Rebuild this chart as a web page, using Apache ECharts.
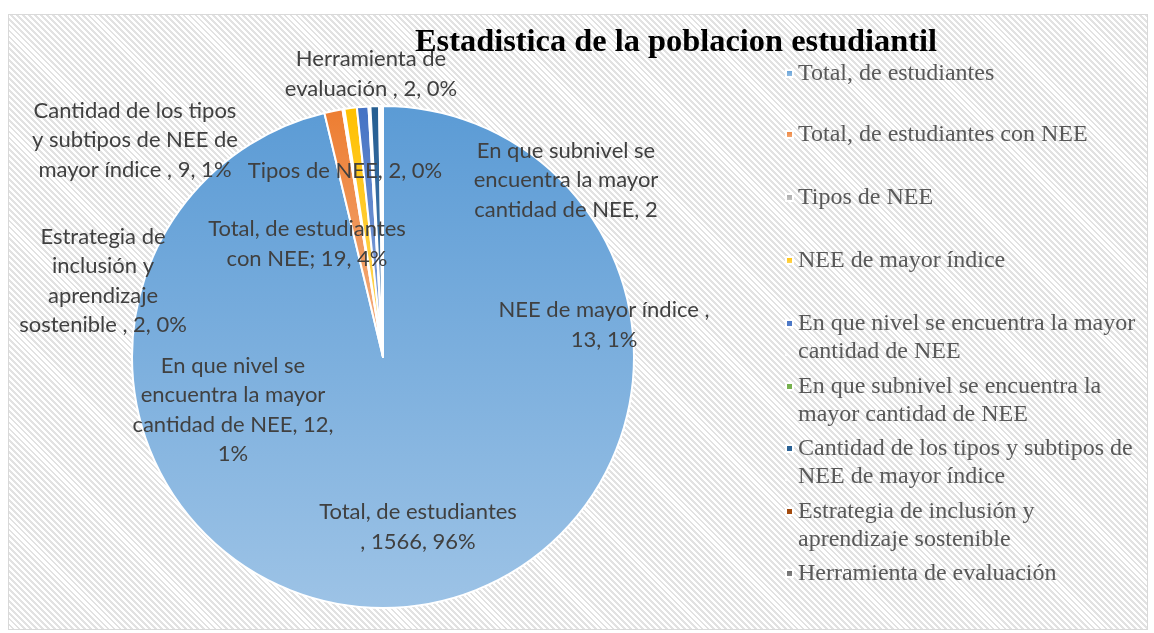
<!DOCTYPE html>
<html>
<head>
<meta charset="utf-8">
<script src="https://cdn.jsdelivr.net/npm/echarts@6/dist/echarts.min.js"></script>
<style>
  html, body { margin: 0; padding: 0; background: #fff; }
  #main {
    position: absolute; left: 8px; top: 14px;
    width: 1138px; height: 614px;
    border: 1px solid #d9d9d9;
    background: repeating-linear-gradient(45deg, #ffffff 0px, #ffffff 2.2px, #e2e2e2 2.2px, #e2e2e2 4.2px);
  }
</style>
</head>
<body>
<div id="main"></div>
<script>
var categories = [
  'Total, de estudiantes',
  'Total, de estudiantes con NEE',
  'Tipos de NEE',
  'NEE de mayor índice',
  'En que nivel se encuentra la mayor cantidad de NEE',
  'En que subnivel se encuentra la mayor cantidad de NEE',
  'Cantidad de los tipos y subtipos de NEE de mayor índice',
  'Estrategia de inclusión y aprendizaje sostenible',
  'Herramienta de evaluación'
];
var values = [1566, 19, 2, 13, 12, 2, 9, 2, 2];
// texto de etiquetas tal como aparece en el grafico
var labelTexts = [
  'Total, de estudiantes\n, 1566, 96%',
  'Total, de estudiantes\ncon NEE; 19, 4%',
  'Tipos de NEE, 2, 0%',
  'NEE de mayor índice ,\n13, 1%',
  'En que nivel se\nencuentra la mayor\ncantidad de NEE, 12,\n1%',
  'En que subnivel se\nencuentra la mayor\ncantidad de NEE, 2',
  'Cantidad de los tipos\ny subtipos de NEE de\nmayor índice , 9, 1%',
  'Estrategia de\ninclusión y\naprendizaje\nsostenible , 2, 0%',
  'Herramienta de\nevaluación , 2, 0%'
];
var legendTexts = [
  'Total, de estudiantes',
  'Total, de estudiantes con NEE',
  'Tipos de NEE',
  'NEE de mayor índice',
  'En que nivel se encuentra la mayor\ncantidad de NEE',
  'En que subnivel se encuentra la\nmayor cantidad de NEE',
  'Cantidad de los tipos y subtipos de\nNEE de mayor índice',
  'Estrategia de inclusión y\naprendizaje sostenible',
  'Herramienta de evaluación'
];
var colorsTop = ['#5b9bd5','#ed7d31','#a5a5a5','#ffc000','#4472c4','#70ad47','#255e91','#9e480e','#636363'];
var colorsBottom = ['#9dc3e6','#f4b183','#c9c9c9','#ffd966','#8faadc','#a9d18e','#4f81b8','#c55a11','#8c8c8c'];
// posiciones de etiquetas (centro, coords del grafico)
var labelPos = [[409,512],[298,229],[336,156],[595,310],[224,395],[557,165],[126,125],[94,266],[362,59]];
// centro de la primera linea de cada item de leyenda
var legendLineY = [58.5, 119.5, 182.5, 245.5, 308.5, 371.5, 433.5, 496.5, 558.5];

var chart = echarts.init(document.getElementById('main'));

var pieData = [], legends = [];
for (var i = 0; i < categories.length; i++) {
  pieData.push({
    name: categories[i],
    value: values[i],
    itemStyle: {
      color: {
        type: 'linear', x: 0, y: 0, x2: 0, y2: 1,
        colorStops: [{offset: 0, color: colorsTop[i]}, {offset: 1, color: colorsBottom[i]}]
      }
    },
    label: {formatter: labelTexts[i]}
  });
  var multi = legendTexts[i].indexOf('\n') >= 0;
  legends.push({
    orient: 'vertical',
    left: 776,
    top: legendLineY[i] - 14,
    padding: 0,
    itemWidth: 7,
    itemHeight: multi ? 35 : 7,
    // en items de dos lineas el cuadro va alineado con la primera linea
    icon: multi ? 'path://M0,0h1v1h-1zM0,4.999h0.001v0.001h-0.001z' : 'rect',
    selectedMode: false,
    data: [categories[i]],
    formatter: function(name){ return legendTexts[categories.indexOf(name)]; },
    textStyle: {fontFamily: 'Liberation Serif', fontSize: 24, lineHeight: 28, color: '#595959'}
  });
}

var option = {
  animation: false,
  title: {
    text: 'Estadistica de la poblacion estudiantil',
    left: 406,
    top: 12,
    padding: 0,
    textStyle: {fontFamily: 'Liberation Serif', fontSize: 32.4, fontWeight: 'bold', color: '#000'}
  },
  legend: legends,
  series: [{
    type: 'pie',
    center: [374, 342],
    radius: 251,
    startAngle: 90,
    clockwise: true,
    data: pieData,
    itemStyle: {borderColor: '#fff', borderWidth: 2},
    label: {
      show: true,
      position: 'inside',
      overflow: 'none',
      fontFamily: 'Lato',
      fontSize: 22,
      lineHeight: 29.5,
      color: '#404040'
    },
    labelLine: {show: false},
    labelLayout: function(params){
      var p = labelPos[params.dataIndex];
      return {x: p[0], y: p[1], align: 'center', verticalAlign: 'middle', hideOverlap: false};
    },
    emphasis: {disabled: true}
  }]
};
chart.setOption(option);
</script>
</body>
</html>
